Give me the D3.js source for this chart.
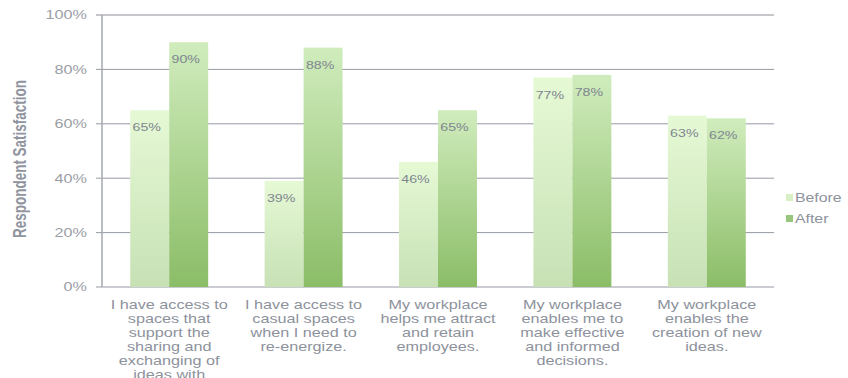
<!DOCTYPE html>
<html>
<head>
<meta charset="utf-8">
<script src="https://cdn.jsdelivr.net/npm/d3@7"></script>
<style>
  html, body { margin: 0; padding: 0; background: #ffffff; }
  svg { display: block; }
  text { font-family: "Liberation Sans", Arial, sans-serif; }
</style>
</head>
<body>
<svg id="chart" width="848" height="378"></svg>
<script>
// Survey results: share of respondents agreeing, before and after the workplace change
const categories = [
  ["I have access to", "spaces that", "support the", "sharing and", "exchanging of", "ideas with"],
  ["I have access to", "casual spaces", "when I need to", "re-energize."],
  ["My workplace", "helps me attract", "and retain", "employees."],
  ["My workplace", "enables me to", "make effective", "and informed", "decisions."],
  ["My workplace", "enables the", "creation of new", "ideas."]
];
const seriesNames = ["Before", "After"];
const beforeValues = [65, 39, 46, 77, 63];
const afterValues = [90, 88, 65, 78, 62];
const yTicks = [0, 20, 40, 60, 80, 100];
const yTitle = "Respondent Satisfaction";

const svg = d3.select("#chart");
const plot = { left: 102, right: 774, top: 15, bottom: 287 };
const SX = 1.35;          // horizontal text stretch used throughout
const textGray = "#8d929c";

const defs = svg.append("defs");
function vGrad(id, top, bottom) {
  const g = defs.append("linearGradient").attr("id", id)
    .attr("x1", 0).attr("y1", 0).attr("x2", 0).attr("y2", 1);
  g.append("stop").attr("offset", "0%").attr("stop-color", top);
  g.append("stop").attr("offset", "100%").attr("stop-color", bottom);
}
vGrad("gBefore", "#e6f9d5", "#c7e1b5");
vGrad("gAfter", "#d0ecbd", "#8bbd67");
const fills = ["url(#gBefore)", "url(#gAfter)"];
const swatch = ["#d9efc6", "#99c67d"];

const x0 = d3.scaleBand().domain(d3.range(categories.length))
  .range([plot.left, plot.right]).paddingInner(0.42).paddingOuter(0.21);
const x1 = d3.scaleBand().domain([0, 1]).range([0, x0.bandwidth()]);
const y = d3.scaleLinear().domain([0, 100]).range([plot.bottom, plot.top]);

// gridlines with short ticks left of the axis
svg.append("g").selectAll("line").data(yTicks).join("line")
  .attr("x1", plot.left - 6).attr("x2", plot.right)
  .attr("y1", d => y(d)).attr("y2", d => y(d))
  .attr("stroke", d => d === 100 ? "#c6c6cb" : "#959aa3")
  .attr("stroke-width", d => d === 100 ? 2 : 1);

// y axis line
svg.append("line")
  .attr("x1", plot.left).attr("x2", plot.left)
  .attr("y1", y(100)).attr("y2", y(0))
  .attr("stroke", "#a3a7ae").attr("stroke-width", 1.5);

// y tick labels
svg.append("g").selectAll("text").data(yTicks).join("text")
  .attr("transform", d => `translate(87,${y(d) + 4.3}) scale(${SX},1)`)
  .attr("text-anchor", "end")
  .attr("font-size", 12).attr("fill", "#9a9ea6")
  .text(d => d + "%");

// y axis title
svg.append("text")
  .attr("transform", `translate(26,159) scale(${SX},1) rotate(-90)`)
  .attr("text-anchor", "middle")
  .attr("font-size", 13.5).attr("font-weight", "bold").attr("fill", "#8f949e")
  .text(yTitle);

// bars
const rows = categories.map((c, i) => [beforeValues[i], afterValues[i]]);
const groups = svg.append("g").selectAll("g").data(rows).join("g")
  .attr("transform", (d, i) => `translate(${x0(i)},0)`);
groups.selectAll("rect").data(d => d).join("rect")
  .attr("x", (d, j) => x1(j))
  .attr("width", x1.bandwidth())
  .attr("y", d => y(d))
  .attr("height", d => y(0) - y(d))
  .attr("fill", (d, j) => fills[j]);

// value labels inside bar tops
groups.selectAll("text").data(d => d).join("text")
  .attr("transform", (d, j) => `translate(${x1(j) + x1.bandwidth() / 2 - 3},${y(d) + 21}) scale(${SX},1)`)
  .attr("text-anchor", "middle")
  .attr("font-size", 10.5).attr("fill", "#7f8691")
  .text(d => d + "%");

// category labels
const catG = svg.append("g").selectAll("g").data(categories).join("g")
  .attr("transform", (d, i) => `translate(${x0(i) + x0.bandwidth() / 2},0)`);
catG.selectAll("text").data(d => d).join("text")
  .attr("transform", (d, k) => `translate(0,${309 + k * 14}) scale(${SX},1)`)
  .attr("text-anchor", "middle")
  .attr("font-size", 12).attr("fill", textGray)
  .text(d => d);

// legend
const leg = svg.append("g").selectAll("g").data(seriesNames).join("g")
  .attr("transform", (d, i) => `translate(786,${194 + i * 21})`);
leg.append("rect").attr("width", 7).attr("height", 7)
  .attr("fill", (d, i) => swatch[i]);
leg.append("text")
  .attr("transform", `translate(9,8) scale(1.32,1)`)
  .attr("font-size", 12).attr("fill", textGray)
  .text(d => d);
</script>
</body>
</html>
